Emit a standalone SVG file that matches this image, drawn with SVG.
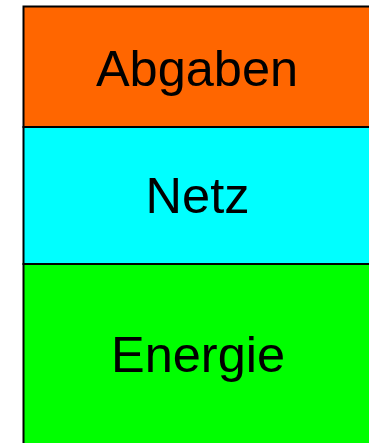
<svg xmlns="http://www.w3.org/2000/svg" width="369" height="443" viewBox="0 0 369 443">
<style>
.box{stroke:#000;stroke-width:2}
.lbl{font-family:"Liberation Sans",Arial,sans-serif;font-size:50.5px;fill:#000;text-anchor:middle}
</style>
<rect width="369" height="443" fill="#fff"/>
<g id="abgaben">
<rect class="box" x="23.5" y="6.5" width="360" height="120.5" fill="#FF6600"/>
<text class="lbl" x="197" y="85.8">Abgaben</text>
</g>
<g id="netz">
<rect class="box" x="23.5" y="127" width="360" height="137" fill="#00FFFF"/>
<text class="lbl" x="197.5" y="213">Netz</text>
</g>
<g id="energie">
<rect class="box" x="23.5" y="264" width="360" height="200" fill="#00FF00"/>
<text class="lbl" x="198" y="372">Energie</text>
</g>
<g id="connectors"></g>
</svg>
